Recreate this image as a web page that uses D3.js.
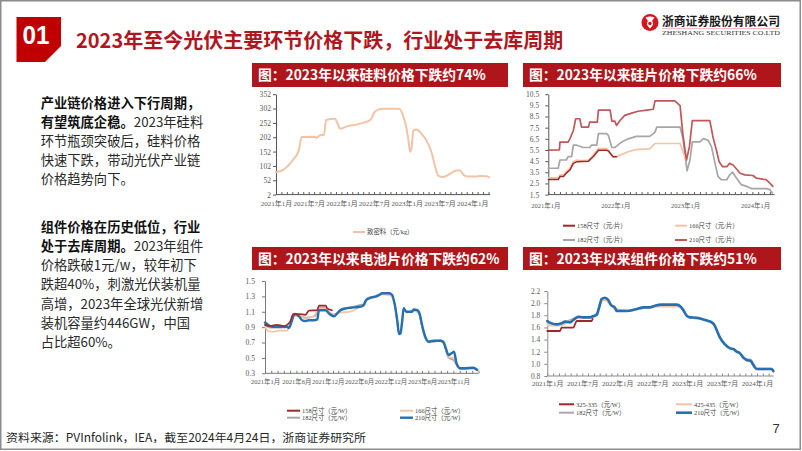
<!DOCTYPE html>
<html><head><meta charset="utf-8">
<script src="https://cdn.jsdelivr.net/npm/d3@7"></script>
<style>
html,body{margin:0;padding:0;background:#fff;}
svg{display:block;}
</style></head><body>
<svg id="c" width="802" height="451"></svg>
<script>
// ---------------- DATA ----------------
// x = months since 2021-01, y = price
const polyXLabels = ["2021年1月","2021年7月","2022年1月","2022年7月","2023年1月","2023年7月","2024年1月"];
const polyXTickMonths = [0,6,12,18,24,30,36];
const polyYTicks = [2,52,102,152,202,252,302,352];
const polyName = "致密料（元/kg）";
const polySilicon = [[0,80],[1.3,88],[2.0,99],[2.6,110],[3.2,126],[3.8,140],[4.2,158],[4.7,203],[7.1,204],[7.4,200],[8.1,209],[8.8,210],[9.2,262],[10.8,266],[11.3,250],[11.7,232],[12.3,234],[13.0,240],[14.5,245],[16.0,252],[17.4,264],[18.0,288],[18.8,298],[19.6,301],[22.6,301],[23.4,272],[23.9,237],[24.3,191],[24.6,151],[24.9,168],[25.2,226],[25.8,229],[26.7,214],[27.6,191],[28.6,145],[29.2,100],[29.8,67],[30.7,63],[31.9,74],[33.1,86],[33.8,86],[34.4,71],[35.3,65],[36.8,65],[37.4,67],[38.7,66],[39.1,62]];

const waferXLabels = ["2021年1月","2022年1月","2023年1月","2024年1月"];
const waferXTickMonths = [0,12,24,36];
const waferYTicks = [1.5,2.5,3.5,4.5,5.5,6.5,7.5,8.5,9.5,10.5];
const waferNames = ["158尺寸（元/片）","166尺寸（元/片）","182尺寸（元/片）","210尺寸（元/片）"];
const wafer158 = [[0,2.85],[1.7,2.85],[2.0,3.12],[2.6,3.12],[3.1,3.42],[3.7,3.7],[4.3,4.3],[4.9,4.45],[6.9,4.5],[7.7,4.9],[8.6,5.48],[10.0,5.48],[10.3,5.4],[11.1,4.9],[11.7,4.9]];
const wafer166 = [[0,3.0],[1.7,3.0],[2.0,3.27],[2.6,3.27],[3.1,3.57],[3.7,3.86],[4.3,4.45],[4.9,4.6],[5.5,4.55],[6.9,4.6],[7.7,5.04],[8.6,5.63],[10.0,5.63],[10.3,5.48],[11.1,4.9],[11.7,4.9],[12.3,5.04],[13.7,5.34],[15.1,5.54],[17.4,5.6],[18.3,6.08],[22.6,6.08],[23.1,5.34],[23.6,4.6]];
const wafer182 = [[0,3.86],[1.7,3.86],[2.0,4.6],[3.1,4.6],[3.4,4.9],[4.0,4.9],[4.3,5.93],[4.9,5.93],[6.0,5.72],[7.1,5.72],[7.4,5.93],[8.3,5.93],[8.6,6.96],[10.0,6.96],[10.3,6.81],[10.9,5.72],[11.4,5.72],[11.7,5.84],[12.6,6.22],[13.7,6.5],[15.1,6.72],[17.4,6.72],[18.3,7.1],[18.6,7.55],[22.6,7.55],[23.1,6.52],[23.6,4.45],[23.8,3.63],[24.3,4.6],[24.7,6.22],[26.0,6.22],[26.6,6.52],[27.4,6.37],[28.0,5.78],[28.6,4.3],[29.1,3.13],[29.7,2.83],[30.6,2.83],[31.1,3.27],[31.6,3.51],[32.3,2.97],[33.1,2.39],[34.0,2.24],[34.9,2.03],[37.4,2.03],[38.0,1.95],[38.4,1.65]];
const wafer210 = [[0,5.48],[1.9,5.5],[2.0,6.2],[3.4,6.2],[3.7,6.5],[4.3,7.25],[4.7,8.3],[5.4,8.3],[5.7,7.55],[6.9,7.55],[7.1,8.0],[8.4,8.0],[8.6,9.08],[10.6,9.08],[10.9,8.08],[11.4,8.08],[11.7,7.7],[12.3,8.14],[13.1,8.6],[14.3,8.8],[15.4,8.97],[16.9,9.08],[18.0,9.15],[18.3,9.9],[21.7,9.9],[22.6,9.47],[23.1,6.81],[23.7,4.6],[24.2,5.78],[24.7,8.14],[27.7,8.14],[28.3,6.52],[28.9,5.34],[29.3,4.45],[29.9,4.0],[30.6,4.0],[31.1,4.3],[31.7,4.15],[32.9,3.42],[33.7,3.27],[35.1,3.21],[35.7,2.97],[37.4,2.83],[38.0,2.53],[38.5,2.24]];

const cellXLabels = ["2021年1月","2021年6月","2021年12月","2022年6月","2022年12月","2023年6月","2023年11月"];
const cellXTickMonths = [0,5,11,17,23,29,34];
const cellYTicks = [0.3,0.5,0.7,0.9,1.1,1.3,1.5];
const cellNames = ["158尺寸（元/W）","166尺寸（元/W）","182尺寸（元/W）","210尺寸（元/W）"];
const cell158 = [[0,0.93],[0.8,0.915],[1.9,0.93],[3.0,0.915],[4.0,0.97],[4.5,1.07],[5.5,1.07],[6.7,1.06],[7.4,1.115],[9.0,1.12],[9.3,1.18],[10.6,1.18],[10.9,1.145],[11.8,1.12]];
const cell166 = [[0,0.906],[0.5,0.85],[1.3,0.84],[2.2,0.855],[3.5,0.855],[4.0,0.93],[4.5,1.04],[5.5,1.04],[6.7,1.015],[8.3,1.04],[9.3,1.145],[10.6,1.145],[11.5,1.08],[12.5,1.067],[13.4,1.09],[15.3,1.10],[17.3,1.166],[17.9,1.175],[18.5,1.26],[19.8,1.288],[21.4,1.327],[23.0,1.31],[23.8,1.19],[24.3,0.95],[24.6,0.82],[25.2,0.963],[25.5,1.136],[26.2,1.09],[27.4,1.115],[28.4,1.08],[29.0,0.906],[29.5,0.763],[30.1,0.71],[31.9,0.733],[32.5,0.69],[33.2,0.516],[34.0,0.495],[34.8,0.386],[35.3,0.365],[37.2,0.365],[37.8,0.343]];
const cell182 = [[0,0.93],[0.8,0.893],[3.5,0.897],[4.0,0.93],[4.5,1.05],[5.5,1.045],[6.7,1.023],[8.6,1.045],[9.3,1.158],[10.6,1.153],[11.2,1.10],[12.2,1.06],[13.4,1.115],[15.3,1.153],[17.3,1.19],[17.9,1.197],[18.5,1.275],[19.8,1.296],[21.4,1.33],[22.9,1.327],[23.8,1.19],[24.3,0.963],[24.6,0.82],[25.2,0.963],[25.5,1.136],[26.2,1.093],[27.4,1.119],[28.4,1.089],[29.0,0.915],[29.5,0.755],[30.1,0.703],[31.9,0.72],[32.5,0.677],[33.2,0.503],[34.0,0.473],[34.8,0.373],[35.3,0.356],[37.2,0.365],[37.8,0.339]];
const cell210 = [[0,0.96],[0.8,0.915],[1.3,0.905],[3.5,0.905],[3.8,0.89],[4.0,0.915],[4.3,0.99],[4.6,1.06],[4.8,1.07],[5.5,1.04],[6.1,0.99],[6.7,0.98],[7.4,0.99],[8.3,0.99],[9.0,1.0],[9.3,1.12],[10.6,1.12],[11.2,1.08],[12.2,1.04],[12.8,1.08],[13.4,1.12],[14.4,1.145],[15.3,1.153],[17.3,1.166],[17.9,1.19],[18.2,1.24],[18.9,1.275],[19.5,1.288],[20.1,1.296],[20.8,1.318],[21.4,1.34],[22.7,1.34],[23.3,1.318],[23.8,1.19],[24.3,0.97],[24.6,0.81],[24.9,0.82],[25.2,0.97],[25.5,1.145],[26.0,1.10],[27.1,1.10],[27.4,1.13],[28.1,1.12],[28.6,1.06],[29.0,0.93],[29.5,0.78],[30.1,0.71],[30.8,0.724],[31.9,0.724],[32.4,0.71],[32.8,0.625],[33.2,0.538],[33.7,0.56],[34.1,0.58],[34.5,0.43],[35.1,0.365],[35.6,0.365],[37.2,0.373],[37.8,0.343]];

const moduleXLabels = ["2021年1月","2021年7月","2022年1月","2022年7月","2023年1月","2023年7月","2024年1月"];
const moduleXTickMonths = [0,6,12,18,24,30,36];
const moduleYTicks = [0.8,1.0,1.2,1.4,1.6,1.8,2.0,2.2];
const moduleNames = ["325-335（元/W）","425-435（元/W）","182尺寸（元/W）","210尺寸（元/W）"];
const module325 = [[0,1.541],[2.18,1.541],[2.46,1.596],[4.46,1.596],[4.75,1.65],[5.04,1.706],[7.61,1.706],[7.78,1.739]];
const module425 = [[0,1.64],[2.18,1.629],[3.03,1.662],[5.04,1.75],[7.9,1.76],[8.59,1.832],[9.33,2.024],[9.9,2.052],[10.76,1.98],[11.79,1.887],[13.6,1.87],[16.49,1.914],[18.77,1.942],[22.2,1.942],[23.07,1.903],[23.93,1.783],[24.5,1.76],[26.5,1.735],[28.22,1.68],[28.62,1.645],[29.08,1.55],[29.65,1.425],[30.51,1.315],[31.94,1.24],[33.09,1.165],[33.66,1.095],[34.23,1.055],[34.92,1.04],[35.37,0.975],[35.95,0.91],[38.52,0.91],[38.81,0.878]];
const module182 = [[0,1.68],[1.6,1.66],[3.03,1.69],[5.04,1.76],[7.9,1.78],[8.59,1.85],[9.33,2.04],[9.9,2.07],[10.76,1.99],[11.79,1.9],[13.6,1.875],[16.49,1.92],[18.77,1.95],[22.2,1.955],[23.07,1.92],[23.93,1.79],[24.5,1.763],[26.5,1.737],[28.22,1.682],[28.62,1.648],[29.08,1.553],[29.65,1.428],[30.51,1.318],[31.94,1.242],[33.09,1.17],[33.66,1.11],[34.23,1.075],[34.92,1.07],[35.37,1.0],[35.95,0.92],[38.52,0.92],[38.81,0.885]];
const module210 = [[0,1.706],[0.74,1.667],[1.6,1.65],[2.46,1.667],[3.03,1.695],[3.9,1.684],[4.46,1.722],[5.32,1.777],[6.18,1.766],[7.33,1.766],[7.9,1.788],[8.47,1.805],[8.93,1.942],[9.33,2.068],[9.9,2.09],[10.47,2.052],[10.93,1.97],[11.62,1.925],[11.9,1.87],[13.6,1.87],[15.34,1.903],[16.49,1.93],[17.63,1.93],[18.49,1.958],[19.63,1.975],[22.2,1.975],[22.9,1.942],[23.35,1.887],[23.93,1.794],[24.5,1.766],[25.64,1.76],[26.5,1.739],[27.65,1.706],[28.22,1.684],[28.62,1.65],[29.08,1.557],[29.65,1.431],[30.51,1.321],[31.37,1.255],[31.94,1.244],[32.5,1.2],[33.09,1.173],[33.66,1.102],[34.23,1.063],[34.92,1.047],[35.37,0.981],[35.95,0.915],[38.52,0.915],[38.81,0.882]];

// ---------------- DRAWING ----------------
const svg = d3.select("#c");
const SERIF = "'Liberation Serif','Noto Sans CJK SC',serif";
const CJK = "'Noto Sans CJK SC','Noto Sans',sans-serif";
const RED = "#B0161E";

svg.append("rect").attr("x",0).attr("y",0).attr("width",802).attr("height",451).attr("fill","#fff");
svg.append("rect").attr("x",0.75).attr("y",0.75).attr("width",799.5).attr("height",448.5)
  .attr("fill","none").attr("stroke","#8c8c8c").attr("stroke-width",1.5);

// badge
svg.append("polygon").attr("points","16.5,17 61,17 61,46 45,62 16.5,62").attr("fill","#C00000");
svg.append("text").attr("x",22.5).attr("y",43.5).attr("font-family","'Liberation Sans',Arial,sans-serif")
  .attr("font-weight",700).attr("font-size",26).attr("fill","#fff").attr("textLength",27).attr("lengthAdjust","spacingAndGlyphs").text("01");
// title
svg.append("text").attr("x",76).attr("y",48).attr("font-family",CJK).attr("font-weight",700)
  .attr("font-size",20).attr("fill",RED).text("2023年至今光伏主要环节价格下跌，行业处于去库周期");

// logo
svg.append("circle").attr("cx",650).attr("cy",22.5).attr("r",8.5).attr("fill","#D2181F");
svg.append("path").attr("d","M645.5,17.5 Q650,15.5 654.5,17.5 L652,21 Q655,24 650,28.5 Q645,24 648,21 Z").attr("fill","#fff");
svg.append("circle").attr("cx",650).attr("cy",23.5).attr("r",1.8).attr("fill","#D2181F");
svg.append("text").attr("x",662).attr("y",26).attr("font-family",CJK).attr("font-weight",700)
  .attr("font-size",12).attr("fill","#1a1a1a").attr("textLength",118).attr("lengthAdjust","spacingAndGlyphs").text("浙商证券股份有限公司");
svg.append("line").attr("x1",662).attr("x2",780).attr("y1",28.6).attr("y2",28.6).attr("stroke","#E7A3AA").attr("stroke-width",0.8);
svg.append("text").attr("x",662).attr("y",34.6).attr("font-family","'Liberation Serif',serif")
  .attr("font-size",5.6).attr("fill","#333").attr("textLength",118).attr("lengthAdjust","spacingAndGlyphs").text("ZHESHANG SECURITIES CO.LTD");

// left text
function para(lines, y0, lh){
  const t = svg.append("text").attr("font-family",CJK).attr("font-size",13.3).attr("fill","#1f1f1f");
  lines.forEach((ln,i)=>{
    ln.forEach((seg,j)=>{
      const ts = t.append("tspan").text(seg[0]).attr("font-weight",seg[1]?700:400).attr("fill",seg[1]?"#111":"#2a2a2a");
      if(j===0) ts.attr("x",40.7).attr("y",y0+i*lh);
    });
  });
}
para([
  [["产业链价格进入下行周期，",1]],
  [["有望筑底企稳。",1],["2023年硅料",0]],
  [["环节瓶颈突破后，硅料价格",0]],
  [["快速下跌，带动光伏产业链",0]],
  [["价格趋势向下。",0]]
], 108, 19.1);
para([
  [["组件价格在历史低位，行业",1]],
  [["处于去库周期。",1],["2023年组件",0]],
  [["价格跌破1元/w，较年初下",0]],
  [["跌超40%，刺激光伏装机量",0]],
  [["高增，2023年全球光伏新增",0]],
  [["装机容量约446GW，中国",0]],
  [["占比超60%。",0]]
], 231.5, 19.3);

// footer
svg.append("text").attr("x",6).attr("y",442).attr("font-family",CJK).attr("font-size",11.8).attr("fill","#262626")
  .attr("textLength",360).attr("lengthAdjust","spacingAndGlyphs").text("资料来源：PVInfolink，IEA，截至2024年4月24日，浙商证券研究所");
svg.append("text").attr("x",776).attr("y",433).attr("text-anchor","middle").attr("font-family","'Liberation Sans',sans-serif")
  .attr("font-size",13).attr("fill","#333").text("7");

// panel title bars
function bar(x,y,w,h,txt){
  svg.append("rect").attr("x",x).attr("y",y).attr("width",w).attr("height",h).attr("fill","#AF161C");
  svg.append("text").attr("x",x+6).attr("y",y+h/2+5.3).attr("font-family",CJK).attr("font-weight",700)
    .attr("font-size",13.8).attr("fill","#fff").text(txt);
}
bar(252,63,256,24,"图：2023年以来硅料价格下跌约74%");
bar(523,63,258,24,"图：2023年以来硅片价格下跌约66%");
bar(252,247,256,23,"图：2023年以来电池片价格下跌约62%");
bar(523,247,258,23,"图：2023年以来组件价格下跌约51%");

function chart(o){
  const g = svg.append("g");
  const y0 = o.y.range()[0];
  const x0 = o.x(0);
  // y axis
  const ya = d3.axisLeft(o.y).tickValues(o.yTicks).tickFormat(o.yFmt).tickSizeInner(3).tickSizeOuter(0).tickPadding(o.yPad);
  const yg = g.append("g").attr("transform",`translate(${x0},0)`).call(ya);
  yg.select(".domain").attr("stroke",o.axisColor);
  yg.selectAll(".tick line").attr("stroke",o.axisColor);
  yg.selectAll("text").attr("font-family",SERIF).attr("font-size",o.yFont).attr("fill","#595959");
  // x minor ticks
  const xm = d3.axisBottom(o.x).tickValues(d3.range(0,Math.floor(o.xEnd)+1)).tickSizeInner(-2.5).tickSizeOuter(0).tickFormat("");
  const xmg = g.append("g").attr("transform",`translate(0,${y0})`).call(xm);
  xmg.select(".domain").remove();
  xmg.selectAll(".tick line").attr("stroke",o.axisColor);
  g.append("line").attr("x1",x0).attr("x2",o.x(o.xEnd)).attr("y1",y0).attr("y2",y0).attr("stroke",o.axisColor);
  // x labels
  const xl = d3.axisBottom(o.x).tickValues(o.xTickMonths).tickFormat((d,i)=>o.xLabels[i]).tickSize(0).tickPadding(o.xPad);
  const xlg = g.append("g").attr("transform",`translate(${o.xShift||0},${y0})`).call(xl);
  xlg.select(".domain").remove();
  xlg.selectAll("text").attr("font-family",SERIF).attr("font-size",o.xFont).attr("fill","#595959");
  // series
  o.series.forEach(s=>{
    g.append("path").datum(s.data)
      .attr("d",d3.line().x(d=>o.x(d[0])).y(d=>o.y(d[1])).curve(o.curve))
      .attr("fill","none").attr("stroke",s.color).attr("stroke-width",s.width)
      .attr("stroke-linejoin","round").attr("stroke-linecap","round");
  });
  // legend
  o.legend.forEach(l=>{
    g.append("line").attr("x1",l.x).attr("x2",l.x+l.len).attr("y1",l.y).attr("y2",l.y)
      .attr("stroke",l.color).attr("stroke-width",l.width);
    g.append("text").attr("x",l.x+l.len+2).attr("y",l.y+2.3).attr("font-family",SERIF)
      .attr("font-size",6.4).attr("fill","#404040").text(l.name);
  });
}

const C = {dred:"#A0272B", peach:"#F4C3A3", gray:"#A6A6A6", brick:"#C0575B", blue:"#2470B3", mauve:"#B4A4AA"};

// Chart 1: polysilicon
chart({
  x: d3.scaleLinear().domain([0,36]).range([276,472.2]),
  y: d3.scaleLinear().domain([2,352]).range([194.6,94.2]),
  yTicks: polyYTicks, yFmt: d=>String(d), yPad: 2, yFont: 7.6,
  xTickMonths: polyXTickMonths, xLabels: polyXLabels, xPad: 6.2, xFont: 7, xEnd: 39.3,
  axisColor: "#555", curve: d3.curveMonotoneX,
  series: [{data: polySilicon, color: "#F3C3A6", width: 2}],
  legend: [{x:353, y:232, len:12, color:"#F3C3A6", width:2, name: polyName}]
});

// Chart 2: wafer
chart({
  x: d3.scaleLinear().domain([0,36]).range([548.3,758.2]),
  y: d3.scaleLinear().domain([1.5,10.5]).range([194.6,94.2]),
  yTicks: waferYTicks, yFmt: d3.format(".1f"), yPad: 6, yFont: 7.6,
  xTickMonths: waferXTickMonths, xLabels: waferXLabels, xPad: 8.6, xFont: 6.5, xEnd: 38.8, xShift: -3,
  axisColor: "#555", curve: d3.curveLinear,
  series: [
    {data: wafer182, color: C.gray, width: 1.7},
    {data: wafer166, color: C.peach, width: 1.7},
    {data: wafer158, color: C.dred, width: 1.5},
    {data: wafer210, color: C.brick, width: 1.7}
  ],
  legend: [
    {x:563, y:225.7, len:12, color:C.dred, width:2, name: waferNames[0]},
    {x:675, y:225.7, len:12, color:C.peach, width:2, name: waferNames[1]},
    {x:563, y:240, len:12, color:C.gray, width:2, name: waferNames[2]},
    {x:675, y:240, len:12, color:C.brick, width:2, name: waferNames[3]}
  ]
});

// Chart 3: cell
chart({
  x: d3.scaleLinear().domain(cellXTickMonths).range(cellXTickMonths.map((d,i)=>265+i*31.4)),
  y: d3.scaleLinear().domain([0.3,1.5]).range([373.3,281]),
  yTicks: cellYTicks, yFmt: d3.format(".1f"), yPad: 7, yFont: 7.6,
  xTickMonths: cellXTickMonths, xLabels: cellXLabels, xPad: 6.5, xFont: 6.5, xEnd: 38,
  axisColor: "#7a7a7a", curve: d3.curveMonotoneX,
  series: [
    {data: cell182, color: C.gray, width: 1.7},
    {data: cell166, color: C.peach, width: 1.7},
    {data: cell210, color: C.blue, width: 2.4},
    {data: cell158, color: C.dred, width: 1.7}
  ],
  legend: [
    {x:287, y:410.7, len:13, color:C.dred, width:2, name: cellNames[0]},
    {x:400, y:410.7, len:13, color:C.peach, width:2, name: cellNames[1]},
    {x:287, y:417.7, len:13, color:C.gray, width:2, name: cellNames[2]},
    {x:400, y:417.7, len:13, color:C.blue, width:2.4, name: cellNames[3]}
  ]
});

// Chart 4: module
chart({
  x: d3.scaleLinear().domain([0,36]).range([547.3,757]),
  y: d3.scaleLinear().domain([0.8,2.2]).range([376,291]),
  yTicks: moduleYTicks, yFmt: d3.format(".1f"), yPad: 4, yFont: 7.4,
  xTickMonths: moduleXTickMonths, xLabels: moduleXLabels, xPad: 5, xFont: 7, xEnd: 38.9,
  axisColor: "#8a8a8a", curve: d3.curveMonotoneX,
  series: [
    {data: module182, color: C.mauve, width: 1.8},
    {data: module425, color: C.peach, width: 1.8},
    {data: module210, color: C.blue, width: 2.6},
    {data: module325, color: C.dred, width: 1.8}
  ],
  legend: [
    {x:559, y:404.3, len:15, color:C.dred, width:2, name: moduleNames[0]},
    {x:676, y:404.3, len:16, color:C.peach, width:2, name: moduleNames[1]},
    {x:559, y:412.7, len:15, color:C.mauve, width:2, name: moduleNames[2]},
    {x:676, y:412.7, len:16, color:C.blue, width:2.6, name: moduleNames[3]}
  ]
});
</script></body></html>
